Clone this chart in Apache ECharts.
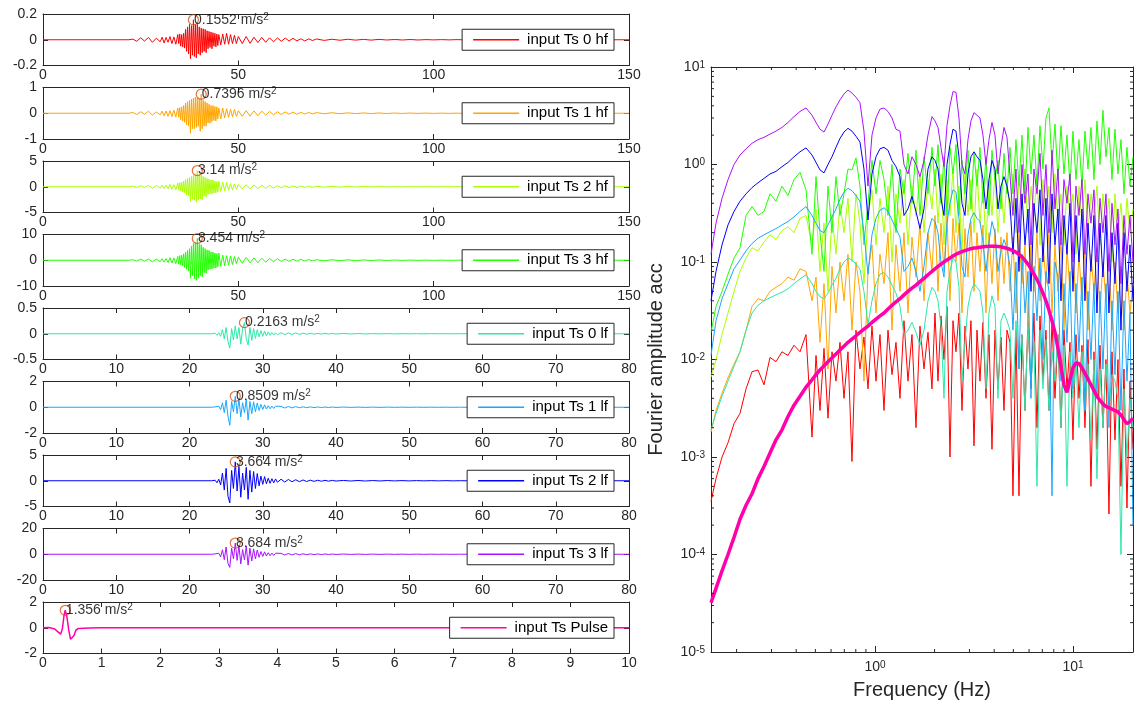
<!DOCTYPE html>
<html><head><meta charset="utf-8">
<script src="https://cdn.jsdelivr.net/npm/echarts@6/dist/echarts.min.js"></script>
<style>html,body{margin:0;padding:0;background:#fff}#c{width:1137px;height:710px}</style>
</head><body><div id="c"></div>
<script>
// ---------------- time series data ----------------
const tHF = [0,22,23,24,25,26,27,28,29,30,
  30.5,31,31.5,32,32.5,33,33.5,34,34.5,
  34.75,35,35.25,35.5,35.75,36,36.25,36.5,36.75,37,37.25,37.5,37.75,38,38.25,38.5,38.75,39,39.25,39.5,
  39.75,40,40.25,40.5,40.75,41,41.25,41.5,41.75,42,42.25,42.5,42.75,43,43.25,43.5,43.75,44,44.25,44.5,44.75,45,
  45.5,46,46.5,47,47.5,48,48.5,49,49.5,50,
  51,52,53,54,55,56,57,58,59,60,61,62,63,64,65,66,67,68,69,70,
  72,74,76,78,80,82,84,86,88,90,92,94,96,98,100,102,104,106,108,110,150];
const acc0hf = [0,0,0.005,-0.012,0.015,-0.01,0.018,-0.02,0.012,-0.015,
  0.02,-0.025,0.018,-0.02,0.025,-0.03,0.022,-0.035,0.04,
  -0.03,0.045,-0.05,0.04,-0.055,0.05,-0.065,0.08,-0.09,0.1,-0.11,0.12,-0.148,0.11,-0.12,0.1552,-0.13,0.12,-0.14,0.12,
  -0.11,0.1,-0.12,0.09,-0.1,0.085,-0.09,0.08,-0.1,0.07,-0.07,0.065,-0.06,0.06,-0.07,0.055,-0.05,0.05,-0.055,0.045,-0.045,0.04,
  -0.04,0.045,-0.035,0.05,-0.035,0.04,-0.03,0.035,-0.03,0.025,
  -0.03,0.025,-0.028,0.02,-0.022,0.018,-0.02,0.015,-0.016,0.014,-0.012,0.013,-0.01,0.011,-0.009,0.008,-0.009,0.007,-0.006,0.006,
  -0.005,0.004,-0.004,0.004,-0.003,0.003,-0.003,0.003,-0.002,0.002,-0.002,0.002,-0.002,0.001,-0.001,0.001,-0.001,0.001,-0.001,0,0];
const acc1hf = [0,0,0.03,-0.05,0.06,-0.04,0.08,-0.07,0.05,-0.06,
  0.08,-0.1,0.09,-0.12,0.1,-0.13,0.12,-0.15,0.2,
  -0.15,0.22,-0.25,0.25,-0.3,0.3,-0.35,0.4,-0.45,0.45,-0.5,0.5,-0.78,0.55,-0.6,0.58,-0.6,0.62,-0.55,0.6,
  -0.5,0.55,-0.7,0.7396,-0.6,0.5,-0.5,0.45,-0.5,0.4,-0.38,0.35,-0.38,0.3,-0.32,0.3,-0.28,0.26,-0.3,0.25,-0.22,0.2,
  -0.22,0.2,-0.18,0.18,-0.16,0.15,-0.14,0.15,-0.12,0.1,
  -0.12,0.1,-0.11,0.09,-0.1,0.08,-0.07,0.07,-0.06,0.06,-0.05,0.05,-0.04,0.045,-0.04,0.035,-0.03,0.03,-0.025,0.025,
  -0.02,0.02,-0.018,0.015,-0.015,0.012,-0.012,0.01,-0.01,0.008,-0.008,0.007,-0.006,0.006,-0.005,0.004,-0.004,0.003,-0.003,0,0];
const acc2hf = [0,0,0.1,-0.15,0.2,-0.15,0.25,-0.3,0.2,-0.25,
  0.3,-0.35,0.3,-0.4,0.45,-0.5,0.4,-0.6,0.7,
  -0.6,0.8,-0.8,0.9,-1.0,1.1,-1.2,1.4,-1.6,1.6,-1.8,1.8,-2.9,2.0,-2.4,2.2,-2.6,2.5,-3.0,3.14,
  -2.6,2.4,-2.4,2.4,-2.5,2.0,-1.8,1.8,-2.0,1.6,-1.5,1.5,-1.4,1.3,-1.4,1.3,-1.2,1.1,-1.2,1.0,-1.0,1.1,
  -0.9,0.9,-0.8,0.85,-0.7,0.6,-0.65,0.55,-0.5,0.45,
  -0.45,0.4,-0.42,0.35,-0.38,0.3,-0.3,0.28,-0.25,0.22,-0.2,0.2,-0.16,0.16,-0.14,0.12,-0.12,0.1,-0.1,0.09,
  -0.08,0.07,-0.07,0.06,-0.05,0.05,-0.04,0.04,-0.035,0.03,-0.03,0.025,-0.02,0.02,-0.02,0.015,-0.012,0.01,-0.01,0,0];
const acc3hf = [0,0,0.2,-0.3,0.4,-0.35,0.5,-0.6,0.45,-0.5,
  0.6,-0.7,0.65,-0.9,1.0,-1.1,0.9,-1.3,1.5,
  -1.5,1.8,-1.8,2.0,-2.2,2.5,-2.8,3.2,-3.5,3.8,-4.2,4.5,-7.0,5.5,-6.0,6.5,-7.2,6.8,-7.8,8.454,
  -6.8,6.2,-6.0,6.0,-6.5,5.0,-4.8,4.5,-5.0,4.0,-3.8,3.8,-3.5,3.2,-3.4,3.2,-3.0,2.8,-3.0,2.6,-2.6,2.8,
  -2.3,2.0,-2.1,1.8,-1.8,1.6,-1.7,1.5,-1.3,1.2,
  -1.2,1.1,-1.0,0.9,-0.95,0.8,-0.75,0.7,-0.6,0.6,-0.5,0.45,-0.45,0.4,-0.35,0.35,-0.3,0.25,-0.25,0.2,
  -0.2,0.18,-0.16,0.15,-0.14,0.12,-0.1,0.1,-0.09,0.08,-0.07,0.06,-0.05,0.05,-0.04,0.035,-0.03,0.02,-0.02,0,0];

const tLF = [0,23,
  23.5,23.75,24,24.25,24.5,24.75,25,25.25,25.5,25.75,26,26.25,26.5,26.75,27,27.25,27.5,27.75,
  28,28.25,28.5,28.75,29,29.25,29.5,29.75,30,30.25,30.5,30.75,31,31.25,31.5,31.75,32,
  32.5,33,33.5,34,34.5,35,35.5,36,36.5,37,37.5,38,38.5,39,39.5,40,
  41,42,43,44,45,46,47,48,49,50,51,52,53,54,55,56,57,58,59,60,80];
const acc0lf = [0,0,
  0.01,-0.03,0.02,-0.05,0.08,-0.1,0.12,-0.15,-0.28,0.1,-0.12,0.15,-0.1,0.12,-0.2,0.1,0.2163,-0.1,
  -0.22,0.12,-0.13,0.1,-0.09,0.08,-0.06,0.06,-0.05,0.05,-0.04,0.035,-0.03,0.025,-0.025,0.02,-0.02,
  0.02,-0.018,0.016,-0.015,0.014,-0.012,0.01,-0.01,0.009,-0.008,0.008,-0.007,0.006,-0.006,0.005,-0.005,
  0.005,-0.004,0.004,-0.004,0.003,-0.003,0.003,-0.003,0.002,-0.002,0.002,-0.002,0.002,-0.001,0.001,-0.001,0.001,-0.001,0.001,0,0];
const acc1lf = [0,0,
  0.03,-0.1,0.08,-0.2,0.35,-0.42,0.55,-0.7,-1.4,0.45,-0.35,0.8509,-0.5,0.65,-0.75,0.35,-0.42,0.6,
  -1.0,0.45,-0.5,0.42,-0.35,0.33,-0.25,0.22,-0.17,0.19,-0.14,0.12,-0.12,0.09,-0.09,0.08,-0.07,
  0.07,-0.06,0.06,-0.05,0.05,-0.04,0.035,-0.035,0.03,-0.03,0.025,-0.025,0.02,-0.02,0.017,-0.015,
  0.015,-0.012,0.012,-0.012,0.01,-0.01,0.01,-0.008,0.008,-0.007,0.007,-0.005,0.005,-0.005,0.004,-0.004,0.003,-0.003,0.002,0,0];
const acc2lf = [0,0,
  0.1,-0.4,0.3,-0.8,1.5,-1.8,2.4,-3.0,-4.3,2.0,-1.5,3.664,-2.0,2.8,-3.2,1.5,-1.8,2.6,
  -3.6,2.0,-2.2,1.8,-1.5,1.4,-1.0,0.9,-0.7,0.8,-0.6,0.5,-0.5,0.4,-0.4,0.35,-0.3,
  0.3,-0.25,0.25,-0.2,0.2,-0.18,0.15,-0.15,0.12,-0.12,0.1,-0.1,0.08,-0.08,0.07,-0.06,
  0.06,-0.05,0.05,-0.05,0.04,-0.04,0.04,-0.03,0.03,-0.03,0.03,-0.02,0.02,-0.02,0.02,-0.02,0.01,-0.01,0.01,0,0];
const acc3lf = [0,0,
  0.3,-1.0,0.8,-2.0,3.5,-4.2,5.6,-7.0,-10.2,4.8,-3.5,8.684,-4.8,6.6,-7.5,3.6,-4.3,6.1,
  -8.5,4.7,-5.2,4.2,-3.6,3.3,-2.4,2.1,-1.7,1.9,-1.4,1.2,-1.2,0.9,-0.9,0.8,-0.7,
  0.7,-0.6,0.6,-0.5,0.5,-0.4,0.35,-0.35,0.3,-0.3,0.25,-0.25,0.2,-0.2,0.17,-0.15,
  0.15,-0.12,0.12,-0.12,0.1,-0.1,0.1,-0.08,0.08,-0.07,0.07,-0.05,0.05,-0.05,0.04,-0.04,0.03,-0.03,0.02,0,0];

const tPulse = [0,0.1,0.2,0.25,0.3,0.33,0.36,0.38,0.41,0.44,0.47,0.5,0.53,0.56,0.6,0.7,0.8,1.0,10];
const accPulse = [0,0.02,-0.1,-0.3,-0.5,-0.1,1.0,1.356,0.8,-0.2,-0.9,-1.0,-0.6,-0.2,-0.05,-0.03,-0.01,0,0];

const names = ['input Ts 0 hf','input Ts 1 hf','input Ts 2 hf','input Ts 3 hf',
  'input Ts 0 lf','input Ts 1 lf','input Ts 2 lf','input Ts 3 lf','input Ts Pulse'];
const colors = ['#ff0000','#ffa500','#aaff00','#22ff00','#2ce8a8','#18a8ff','#0000ff','#aa11ff','#ff00aa'];
const yLimits = [0.2,1,5,10,0.5,2,5,20,2];
const xLimits = [150,150,150,150,80,80,80,80,10];
const xSteps = [50,50,50,50,10,10,10,10,1];
const peakTime = [38.5,40.5,39.5,39.5,27.5,26.25,26.25,26.25,0.38];
const peakAcc = [0.1552,0.7396,3.14,8.454,0.2163,0.8509,3.664,8.684,1.356];

// ---------------- Fourier spectra data ----------------
const freqHz = [0.1485,0.1574,0.1688,0.181,0.1941,0.2081,0.2232,0.2393,0.2566,0.2751,0.295,0.3162,0.3391,0.3636,0.3899,0.4181,0.4483,0.4807,
  0.5036,0.5275,0.5527,0.579,0.6065,0.6353,0.6656,0.6972,0.7304,0.7652,0.8016,0.8397,0.8797,0.9218,0.9656,1.0117,1.0599,1.1103,1.1632,1.2186,1.2765,1.3373,1.401,1.4678,1.5376,1.6109,1.6876,1.768,1.8522,1.9403,
  2.0092,2.0807,2.1544,2.2311,2.3101,2.3922,2.4771,2.5651,2.6561,2.7505,2.848,2.9492,3.0537,3.1623,3.2746,3.3905,3.5111,3.6355,3.7648,3.8983,4.037,4.18,4.3287,4.4822,4.6416,
  4.8064,4.9775,5.1535,5.3372,5.5265,5.723,5.9257,6.1376,6.3533,6.5793,6.8129,7.0549,7.3047,7.5644,7.8343,8.1113,8.3987,8.697,9.005,9.326,9.6562,10,10.356,10.723,11.103,11.497,11.906,12.327,12.765,13.219,13.689,14.171,14.678,15.199,15.74,16.298,16.876,17.474,18.098,18.738,19.403,20.092];
const fas0hf = [0.00035,0.0006,0.001,0.0014,0.0022,0.0028,0.005,0.0075,0.0078,0.0055,0.0105,0.0095,0.012,0.011,0.014,0.012,0.018,0.0016,
  0.011,0.003,0.013,0.0025,0.012,0.006,0.015,0.004,0.012,0.0009,0.02,0.008,0.017,0.005,0.022,0.006,0.018,0.003,0.02,0.007,0.015,0.004,0.025,0.006,0.018,0.002,0.022,0.008,0.019,0.005,
  0.03,0.006,0.028,0.01,0.035,0.001,0.025,0.012,0.03,0.003,0.022,0.008,0.025,0.0013,0.02,0.006,0.024,0.004,0.018,0.0012,0.02,0.005,0.017,0.003,0.02,
  0.015,0.0004,0.02,0.0004,0.018,0.003,0.025,0.005,0.03,0.002,0.028,0.006,0.02,0.003,0.025,0.004,0.018,0.002,0.02,0.005,0.015,0.0015,0.018,0.004,0.014,0.002,0.016,0.0005,0.012,0.0012,0.014,0.002,0.01,0.00026,0.012,0.0015,0.01,0.0005,0.008,0.0003,0.006,0.0012];
const fas1hf = [0.0018,0.003,0.0045,0.0065,0.009,0.012,0.02,0.035,0.042,0.04,0.05,0.055,0.06,0.07,0.065,0.085,0.08,0.04,
  0.07,0.015,0.06,0.008,0.09,0.03,0.1,0.04,0.12,0.02,0.1,0.05,0.006,0.08,0.15,0.03,0.12,0.06,0.2,0.02,0.15,0.05,0.2,0.03,0.18,0.07,0.25,0.04,0.2,0.08,
  0.3,0.05,0.25,0.08,0.3,0.04,0.28,0.1,0.25,0.03,0.22,0.07,0.26,0.05,0.2,0.08,0.24,0.03,0.2,0.06,0.22,0.04,0.18,0.06,0.2,
  0.05,0.18,0.03,0.2,0.06,0.15,0.02,0.18,0.05,0.2,0.04,0.16,0.06,0.22,0.03,0.15,0.05,0.18,0.02,0.14,0.05,0.16,0.03,0.12,0.04,0.15,0.02,0.12,0.05,0.14,0.03,0.1,0.04,0.12,0.02,0.1,0.03,0.09,0.02,0.08,0.03,0.06];
const fas2hf = [0.0066,0.01,0.018,0.03,0.05,0.08,0.11,0.14,0.13,0.16,0.19,0.17,0.21,0.23,0.2,0.28,0.3,0.15,
  0.35,0.08,0.25,0.05,0.3,0.12,0.4,0.2,0.45,0.1,0.5,0.25,0.06,0.3,0.55,0.15,0.45,0.2,0.6,0.1,0.5,0.25,0.7,0.15,0.6,0.3,0.8,0.2,0.7,0.35,
  0.9,0.25,0.8,0.15,0.7,0.3,0.9,0.2,0.6,0.12,0.8,0.3,0.7,0.2,0.9,0.25,0.6,0.15,0.7,0.3,0.8,0.2,0.6,0.25,0.7,
  0.3,0.8,0.2,0.7,0.35,0.9,0.2,0.6,0.3,0.8,0.15,0.7,0.3,0.6,0.2,0.8,0.25,0.5,0.15,0.6,0.3,0.5,0.12,0.6,0.25,0.7,0.2,0.5,0.3,0.6,0.15,0.5,0.25,0.45,0.1,0.5,0.2,0.4,0.15,0.45,0.2,0.35];
const fas3hf = [0.019,0.035,0.05,0.075,0.11,0.14,0.3,0.37,0.3,0.33,0.5,0.42,0.6,0.48,0.7,0.83,0.55,0.12,
  0.75,0.2,0.08,0.6,0.2,0.75,0.3,0.5,0.9,0.88,1.17,0.6,0.15,0.4,1.1,0.5,1.1,0.7,0.3,1.0,0.2,0.9,0.5,1.3,0.4,1.4,0.3,1.2,0.5,1.5,
  0.6,1.6,0.4,1.2,0.3,1.5,0.8,1.6,0.3,1.1,0.5,1.4,0.35,1.3,0.6,1.5,0.4,1.2,0.3,1.4,0.7,1.1,0.35,1.3,0.5,
  1.5,0.5,1.8,0.6,2.0,0.5,2.4,0.8,2.0,0.6,2.5,0.9,3.0,3.8,1.0,2.6,0.7,2.5,0.8,2.0,0.6,2.2,0.7,1.8,0.6,2.2,0.9,2.4,0.7,2.8,1.0,3.6,1.2,2.4,0.7,2.3,0.8,1.8,0.5,1.5,0.6,1.2];
const fas0lf = [0.0019,0.0028,0.0042,0.006,0.0085,0.012,0.02,0.03,0.036,0.04,0.043,0.046,0.049,0.053,0.06,0.067,0.074,0.06,
  0.05,0.044,0.042,0.048,0.058,0.068,0.085,0.1,0.11,0.105,0.095,0.085,0.05,0.023,0.04,0.06,0.075,0.078,0.07,0.058,0.048,0.035,0.018,0.02,0.024,0.019,0.014,0.02,0.04,0.055,
  0.05,0.04,0.022,0.004,0.05,0.08,0.11,0.1,0.055,0.006,0.015,0.035,0.05,0.06,0.055,0.05,0.03,0.005,0.03,0.045,0.035,0.004,0.025,0.03,0.025,
  0.02,0.004,0.025,0.008,0.018,0.003,0.022,0.006,0.015,0.0005,0.02,0.005,0.016,0.003,0.012,0.006,0.018,0.002,0.014,0.0005,0.012,0.004,0.01,0.002,0.012,0.003,0.009,0.0015,0.01,0.0006,0.008,0.002,0.009,0.003,0.007,0.006,0.004,0.0001,0.005,0.001,0.004,0.002];
const fas1lf = [0.011,0.025,0.042,0.06,0.085,0.105,0.13,0.155,0.175,0.19,0.205,0.22,0.24,0.26,0.29,0.33,0.37,0.3,
  0.25,0.21,0.2,0.24,0.29,0.35,0.44,0.52,0.57,0.54,0.48,0.42,0.2,0.075,0.19,0.28,0.34,0.36,0.33,0.27,0.22,0.18,0.08,0.09,0.11,0.08,0.05,0.09,0.2,0.28,
  0.26,0.2,0.1,0.07,0.25,0.4,0.55,0.52,0.28,0.09,0.07,0.19,0.28,0.32,0.28,0.26,0.16,0.08,0.16,0.26,0.2,0.08,0.13,0.17,0.14,
  0.09,0.02,0.1,0.008,0.12,0.03,0.08,0.004,0.09,0.025,0.11,0.01,0.08,0.05,0.0004,0.1,0.07,0.006,0.06,0.015,0.08,0.005,0.06,0.012,0.07,0.003,0.05,0.01,0.06,0.004,0.05,0.008,0.06,0.002,0.04,0.007,0.05,0.003,0.04,0.006,0.03,0.0002];
const fas2lf = [0.04,0.08,0.15,0.24,0.33,0.42,0.5,0.58,0.65,0.72,0.8,0.85,0.95,1.05,1.2,1.35,1.48,1.25,
  1.05,0.88,0.82,1.0,1.2,1.5,1.85,2.15,2.35,2.2,1.95,1.7,0.9,0.27,0.8,1.2,1.45,1.5,1.4,1.1,0.95,0.75,0.3,0.35,0.47,0.33,0.22,0.35,0.9,1.2,
  1.1,0.9,0.45,0.3,1.0,1.6,2.3,2.2,1.2,0.4,0.3,0.8,1.2,1.35,1.2,1.1,0.7,0.35,0.7,1.1,0.9,0.35,0.6,0.75,0.6,
  0.4,0.12,0.45,0.08,0.5,0.15,0.35,0.05,0.4,0.2,0.55,0.1,0.45,0.06,0.5,0.15,0.35,0.04,0.3,0.12,0.4,0.05,0.3,0.1,0.35,0.04,0.25,0.08,0.3,0.03,0.25,0.07,0.3,0.03,0.2,0.06,0.25,0.02,0.2,0.05,0.15,0.04];
const fas3lf = [0.12,0.25,0.45,0.7,1.0,1.25,1.45,1.65,1.8,1.9,2.05,2.2,2.4,2.7,3.1,3.5,3.8,3.2,
  2.7,2.3,2.15,2.6,3.2,3.9,4.6,5.3,5.8,5.4,4.9,4.3,2.2,0.6,2.0,3.0,3.7,3.8,3.5,3.0,2.3,2.2,1.0,0.8,1.2,1.0,0.75,1.1,2.0,3.1,
  2.8,2.4,1.5,0.95,2.5,4.0,5.6,5.5,3.0,1.0,0.8,1.8,2.8,3.4,3.2,3.0,2.0,1.0,1.8,2.7,2.0,0.8,1.5,2.4,1.9,
  0.78,0.3,0.9,0.2,1.0,0.4,0.8,0.15,0.9,0.5,1.3,0.3,1.0,0.2,1.4,0.35,0.9,0.15,0.7,0.4,0.8,0.1,0.6,0.3,0.7,0.12,0.5,0.25,0.55,0.1,0.45,0.2,0.5,0.08,0.4,0.15,0.35,0.06,0.3,0.12,0.3,0.1];
const fasPulse = [3.2e-5,4.5e-5,6.8e-5,1.0e-4,1.5e-4,2.3e-4,3.2e-4,4.2e-4,6.0e-4,8.0e-4,1.1e-3,1.5e-3,1.9e-3,2.6e-3,3.4e-3,4.2e-3,5.2e-3,6.2e-3,
  0.007,0.0078,0.0086,0.0095,0.0104,0.0114,0.0125,0.0137,0.015,0.0162,0.0175,0.019,0.0205,0.022,0.024,0.026,0.028,0.030,0.033,0.036,0.039,0.042,0.046,0.050,0.054,0.058,0.063,0.068,0.074,0.080,
  0.085,0.09,0.095,0.1,0.105,0.11,0.115,0.12,0.124,0.128,0.131,0.134,0.137,0.139,0.14,0.142,0.143,0.144,0.145,0.145,0.145,0.144,0.143,0.141,0.138,
  0.135,0.131,0.126,0.12,0.113,0.104,0.095,0.085,0.075,0.066,0.057,0.048,0.04,0.032,0.025,0.019,0.013,0.0085,0.0055,0.0046,0.0062,0.0082,0.0092,0.0091,0.0082,0.0072,0.0063,0.0055,0.0048,0.0042,0.0038,0.0035,0.0033,0.0032,0.0031,0.003,0.0029,0.0027,0.0024,0.0022,0.0023,0.0025];
const minorFreqTicks = [0.2,0.3,0.4,0.5,0.6,0.7,0.8,0.9,2,3,4,5,6,7,8,9];
const minorAmpTicks = [2e-5,3e-5,4e-5,5e-5,6e-5,7e-5,8e-5,9e-5,2e-4,3e-4,4e-4,5e-4,6e-4,7e-4,8e-4,9e-4,
  2e-3,3e-3,4e-3,5e-3,6e-3,7e-3,8e-3,9e-3,0.02,0.03,0.04,0.05,0.06,0.07,0.08,0.09,0.2,0.3,0.4,0.5,0.6,0.7,0.8,0.9,2,3,4,5,6,7,8,9];

// ---------------- build chart ----------------
const FONT = "'Liberation Sans', Arial, Helvetica, sans-serif";
const AX = '#262626';
const traces = [[tHF,acc0hf],[tHF,acc1hf],[tHF,acc2hf],[tHF,acc3hf],[tLF,acc0lf],[tLF,acc1lf],[tLF,acc2lf],[tLF,acc3lf],[tPulse,accPulse]];
const spectra = [fas0hf,fas1hf,fas2hf,fas3hf,fas0lf,fas1lf,fas2lf,fas3lf];
const FMIN = 0.1485, FMAX = 20.1, AMIN = 1e-5, AMAX = 10;

const grids=[], xAxes=[], yAxes=[], series=[], legends=[];
const line = {show:true, onZero:false, lineStyle:{color:AX, width:1}};
for (let i=0;i<9;i++){
  const top = 14 + i*73.5;
  grids.push({left:43, top:top, width:586, height:51.5});
  const xc = {type:'value', gridIndex:i, min:0, max:xLimits[i], interval:xSteps[i], splitLine:{show:false},
    axisLine:line, axisTick:{inside:true, length:5, lineStyle:{color:AX}}};
  xAxes.push(Object.assign({}, xc, {position:'bottom', axisLabel:{fontSize:14, color:AX, margin:3, fontFamily:FONT}}));
  xAxes.push(Object.assign({}, xc, {position:'top', axisLabel:{show:false}}));
  const yc = {type:'value', gridIndex:i, min:-yLimits[i], max:yLimits[i], interval:yLimits[i], splitLine:{show:false},
    axisLine:line, axisTick:{inside:true, length:5, lineStyle:{color:AX}}};
  yAxes.push(Object.assign({}, yc, {position:'left', axisLabel:{fontSize:14, color:AX, margin:6, fontFamily:FONT}}));
  yAxes.push(Object.assign({}, yc, {position:'right', axisLabel:{show:false}}));
  const tr = traces[i];
  series.push({type:'line', name:names[i], xAxisIndex:2*i, yAxisIndex:2*i, symbol:'none', showSymbol:false,
    data: tr[0].map((t,k)=>[t, tr[1][k]]), lineStyle:{color:colors[i], width: i===8?1.5:1}, itemStyle:{color:colors[i]},
    z:2, animation:false});
  series.push({type:'scatter', name:'peak'+i, xAxisIndex:2*i, yAxisIndex:2*i, data:[[peakTime[i], peakAcc[i]]],
    symbol:'circle', symbolSize:10, itemStyle:{color:'rgba(0,0,0,0)', borderColor:'#d95319', borderWidth:1.2},
    label:{show:true, position:'right', distance:-5, color:'#000', fontSize:14, fontFamily:FONT, lineHeight:16,
      formatter: ()=> peakAcc[i] + ' m/s{sup|2}',
      rich:{sup:{fontSize:10, fontFamily:FONT, color:'#000', verticalAlign:'top', lineHeight:10}}},
    z:6, silent:true, animation:false});
  legends.push({data:[{name:names[i], icon:'rect'}], right:523, top: top + 25.75 - 10.5, padding:[2,6,2,11], itemWidth:46, itemHeight:1.5,
    borderColor:AX, borderWidth:1, backgroundColor:'#fff', selectedMode:false,
    textStyle:{fontSize:15, color:'#000', fontFamily:FONT, lineHeight:17, padding:[0,0,0,3]}});
}
// right panel
grids.push({left:711, top:67, width:422, height:585});
const supRich = {sup:{fontSize:10, color:AX, fontFamily:FONT, verticalAlign:'top', lineHeight:9}};
const powFmt = v => { const e = Math.log10(v); const r = Math.round(e); return Math.abs(e-r) < 1e-6 ? '10{sup|' + r + '}' : ''; };
const xl = {type:'log', logBase:10, gridIndex:9, min:FMIN, max:FMAX, splitLine:{show:false}, axisLine:line,
  axisTick:{inside:true, length:6, lineStyle:{color:AX}}, minorTick:{show:false}};
xAxes.push(Object.assign({}, xl, {position:'bottom', name:'Frequency (Hz)', nameLocation:'middle', nameGap:28,
  nameTextStyle:{fontSize:20, color:AX, fontFamily:FONT},
  axisLabel:{fontSize:14, color:AX, fontFamily:FONT, margin:8, showMinLabel:false, showMaxLabel:false, formatter:powFmt, rich:supRich}}));
xAxes.push(Object.assign({}, xl, {position:'top', axisLabel:{show:false}}));
const yl = {type:'log', logBase:10, gridIndex:9, min:AMIN, max:AMAX, splitLine:{show:false}, axisLine:line,
  axisTick:{inside:true, length:6, lineStyle:{color:AX}}, minorTick:{show:false}};
yAxes.push(Object.assign({}, yl, {position:'left', name:'Fourier amplitude acc', nameLocation:'middle', nameGap:45,
  nameTextStyle:{fontSize:20, color:AX, fontFamily:FONT},
  axisLabel:{fontSize:14, color:AX, fontFamily:FONT, margin:6, formatter:powFmt, rich:supRich}}));
yAxes.push(Object.assign({}, yl, {position:'right', axisLabel:{show:false}}));
const XI = 18, YI = 18;
spectra.forEach((s,i)=>{
  series.push({type:'line', name:'fas'+i, xAxisIndex:XI, yAxisIndex:YI, symbol:'none', showSymbol:false,
    data: freqHz.map((f,k)=>[f, s[k]]), lineStyle:{color:colors[i], width:1}, z:2, animation:false, silent:true});
});
series.push({type:'line', name:'fasPulse', xAxisIndex:XI, yAxisIndex:YI, symbol:'none', showSymbol:false,
  data: freqHz.map((f,k)=>[f, fasPulse[k]]), lineStyle:{color:colors[8], width:3.5}, z:3, animation:false, silent:true});
// minor ticks (log decades) drawn through the axis scales
series.push({type:'custom', xAxisIndex:XI, yAxisIndex:YI, silent:true, z:8, clip:false, animation:false,
  data: minorFreqTicks.map(f=>[f, AMIN]),
  renderItem:(p, api)=>{ const b = api.coord([api.value(0), AMIN]); const t = api.coord([api.value(0), AMAX]);
    return {type:'group', children:[
      {type:'line', shape:{x1:b[0], y1:b[1], x2:b[0], y2:b[1]-3}, style:{stroke:AX, lineWidth:1}},
      {type:'line', shape:{x1:t[0], y1:t[1], x2:t[0], y2:t[1]+3}, style:{stroke:AX, lineWidth:1}}]}; }});
series.push({type:'custom', xAxisIndex:XI, yAxisIndex:YI, silent:true, z:8, clip:false, animation:false,
  data: minorAmpTicks.map(a=>[FMIN, a]),
  renderItem:(p, api)=>{ const l = api.coord([FMIN, api.value(1)]); const r = api.coord([FMAX, api.value(1)]);
    return {type:'group', children:[
      {type:'line', shape:{x1:l[0], y1:l[1], x2:l[0]+3, y2:l[1]}, style:{stroke:AX, lineWidth:1}},
      {type:'line', shape:{x1:r[0], y1:r[1], x2:r[0]-3, y2:r[1]}, style:{stroke:AX, lineWidth:1}}]}; }});

const chart = echarts.init(document.getElementById('c'), null, {renderer:'canvas'});
chart.setOption({backgroundColor:'#fff', animation:false, grid:grids, xAxis:xAxes, yAxis:yAxes, legend:legends, series:series});
</script></body></html>
